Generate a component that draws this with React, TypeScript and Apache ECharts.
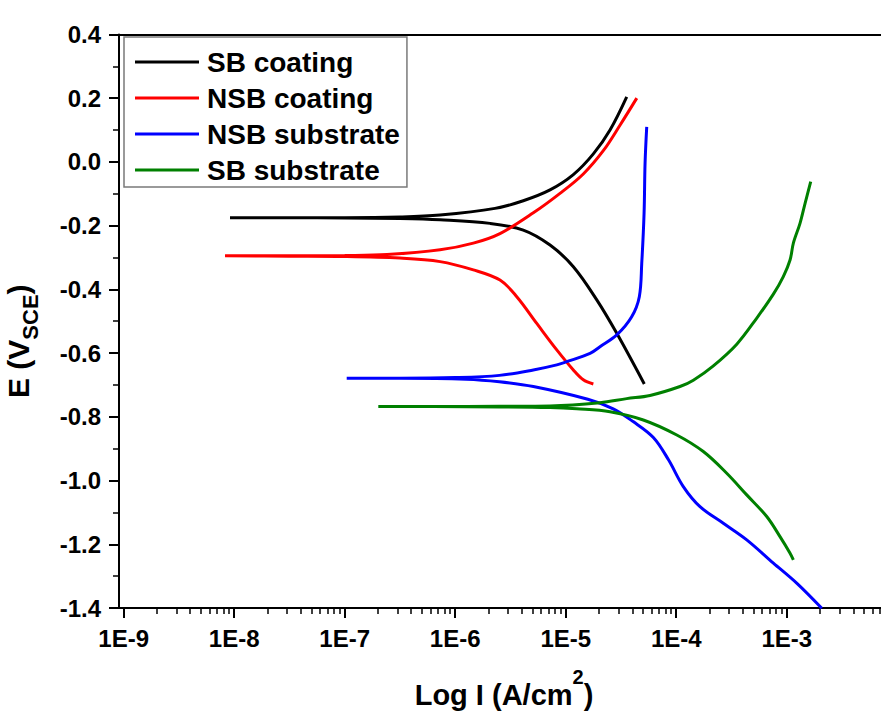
import React, { useEffect, useRef } from "react";
import * as echarts from "echarts";

const FONT = "'Liberation Sans', Arial, Helvetica, sans-serif";

const seriesNames = ["SB coating", "NSB coating", "NSB substrate", "SB substrate"];
const seriesColors = ["#000000", "#ff0000", "#0000ff", "#008000"];

// log10 of current density (A/cm^2) and potential E (V vs SCE), scan order cathodic -> anodic
const sbCoatingLogI = [-4.289, -4.538, -4.719, -4.931, -5.142, -5.384, -5.685, -6.137, -6.5, -7.0, -7.5, -8.038, -7.5, -7.0, -6.5, -6.137, -5.64, -5.384, -5.142, -4.931, -4.75, -4.599, -4.448];
const sbCoatingE = [-0.697, -0.538, -0.433, -0.329, -0.261, -0.214, -0.193, -0.182, -0.178, -0.176, -0.175, -0.175, -0.175, -0.175, -0.173, -0.167, -0.146, -0.122, -0.088, -0.04, 0.025, 0.1, 0.204];

const nsbCoatingLogI = [-4.75, -4.841, -4.931, -5.081, -5.262, -5.443, -5.595, -5.836, -6.137, -6.5, -7.0, -7.5, -8.083, -7.5, -7.0, -6.617, -6.137, -5.836, -5.595, -5.293, -5.052, -4.841, -4.66, -4.509, -4.357];
const nsbCoatingE = [-0.697, -0.684, -0.653, -0.59, -0.507, -0.423, -0.371, -0.339, -0.313, -0.302, -0.297, -0.296, -0.295, -0.295, -0.294, -0.291, -0.276, -0.255, -0.225, -0.16, -0.099, -0.038, 0.035, 0.115, 0.2];

const nsbSubstrateLogI = [-2.683, -2.91, -3.121, -3.362, -3.574, -3.785, -3.936, -4.07, -4.207, -4.39, -4.57, -4.8, -5.293, -5.6, -5.9, -6.5, -6.982, -6.5, -6.0, -5.6, -5.293, -5.081, -4.991, -4.78, -4.69, -4.538, -4.403, -4.334, -4.312, -4.291, -4.282, -4.267];
const nsbSubstrateE = [-1.401, -1.322, -1.259, -1.186, -1.134, -1.082, -1.019, -0.935, -0.865, -0.815, -0.775, -0.745, -0.705, -0.69, -0.682, -0.679, -0.679, -0.679, -0.677, -0.67, -0.653, -0.637, -0.627, -0.601, -0.58, -0.543, -0.486, -0.423, -0.318, -0.161, -0.004, 0.11];

const sbSubstrateLogI = [-2.94, -2.97, -3.061, -3.181, -3.362, -3.543, -3.755, -3.995, -4.298, -4.599, -4.9, -5.142, -5.6, -6.2, -6.696, -6.2, -5.6, -5.142, -4.69, -4.448, -4.237, -3.966, -3.845, -3.664, -3.452, -3.271, -3.121, -3.031, -2.97, -2.94, -2.88, -2.834, -2.783];
const sbSubstrateE = [-1.249, -1.228, -1.176, -1.113, -1.045, -0.977, -0.909, -0.857, -0.81, -0.784, -0.775, -0.771, -0.769, -0.768, -0.768, -0.768, -0.767, -0.766, -0.756, -0.743, -0.733, -0.705, -0.685, -0.64, -0.572, -0.49, -0.415, -0.36, -0.308, -0.255, -0.193, -0.13, -0.062];

const seriesLogI = [sbCoatingLogI, nsbCoatingLogI, nsbSubstrateLogI, sbSubstrateLogI];
const seriesE = [sbCoatingE, nsbCoatingE, nsbSubstrateE, sbSubstrateE];

const xTickExponents = [-9, -8, -7, -6, -5, -4, -3];
const minorMantissas = [2, 3, 4, 5, 6, 7, 8, 9];
const xMin = -9.0425;
const xMax = -2.147;
const yMin = -1.4;
const yMax = 0.4;
const yStep = 0.2;

export default function App() {
  const ref = useRef<HTMLDivElement>(null);

  useEffect(() => {
    if (!ref.current) return;
    const chart = echarts.init(ref.current, null, { renderer: "svg" });

    const minorValues: number[] = [];
    xTickExponents.forEach((e) => {
      minorMantissas.forEach((m) => {
        const v = e + Math.log10(m);
        if (v > xMin && v < xMax) minorValues.push(v);
      });
    });

    const labelStyle = {
      fontFamily: FONT,
      fontWeight: "bold" as const,
      fontSize: 24,
      color: "#000",
    };

    const option: any = {
      animation: false,
      backgroundColor: "#fff",
      grid: {
        left: 119,
        top: 34.4,
        width: 762,
        height: 573.6,
        containLabel: false,
        outerBoundsMode: "none",
      },
      legend: {
        orient: "vertical",
        left: 124,
        top: 37,
        data: seriesNames,
        icon: "rect",
        itemWidth: 64,
        itemHeight: 3,
        itemGap: 6,
        padding: [10, 7, 2, 11],
        borderColor: "#7a7a7a",
        borderWidth: 1.5,
        backgroundColor: "#fff",
        textStyle: {
          fontFamily: FONT,
          fontWeight: "bold",
          fontSize: 28,
          lineHeight: 30,
          color: "#000",
          padding: [0, 0, 0, 3],
        },
      },
      xAxis: [
        {
          type: "value",
          position: "bottom",
          min: xMin,
          max: xMax,
          axisLine: { show: true, onZero: false, lineStyle: { color: "#000", width: 2 } },
          axisTick: { show: true, customValues: xTickExponents, length: 10, lineStyle: { color: "#000", width: 2 } },
          axisLabel: {
            ...labelStyle,
            customValues: xTickExponents,
            margin: 18,
            formatter: (v: number) => "1E" + Math.round(v),
          },
          splitLine: { show: false },
          name: "Log I (A/cm{sup|2})",
          nameLocation: "middle",
          nameGap: 59,
          nameTextStyle: {
            fontFamily: FONT,
            fontWeight: "bold",
            fontSize: 29,
            lineHeight: 56,
            color: "#000",
            padding: [0, 0, 0, 8],
            rich: {
              sup: { fontFamily: FONT, fontWeight: "bold", fontSize: 20, lineHeight: 20, verticalAlign: "top", color: "#000" },
            },
          },
        },
        {
          type: "value",
          position: "bottom",
          min: xMin,
          max: xMax,
          axisLine: { show: false, onZero: false },
          axisTick: { show: true, customValues: minorValues, length: 6, lineStyle: { color: "#000", width: 1.5 } },
          axisLabel: { show: false },
          splitLine: { show: false },
        },
        {
          type: "value",
          position: "top",
          min: xMin,
          max: xMax,
          axisLine: { show: true, onZero: false, lineStyle: { color: "#000", width: 2 } },
          axisTick: { show: false },
          axisLabel: { show: false },
          splitLine: { show: false },
        },
      ],
      yAxis: {
        type: "value",
        min: yMin,
        max: yMax,
        interval: yStep,
        axisLine: { show: true, onZero: false, lineStyle: { color: "#000", width: 2 } },
        axisTick: { show: true, length: 10, lineStyle: { color: "#000", width: 2 } },
        minorTick: { show: true, splitNumber: 2, length: 6, lineStyle: { color: "#000", width: 1.5 } },
        axisLabel: {
          ...labelStyle,
          margin: 18,
          formatter: (v: number) => (Math.abs(v) < 1e-9 ? "0.0" : v.toFixed(1)),
        },
        splitLine: { show: false },
        minorSplitLine: { show: false },
        name: "E (V{sub|SCE})",
        nameLocation: "middle",
        nameGap: 78,
        nameTextStyle: {
          fontFamily: FONT,
          fontWeight: "bold",
          fontSize: 30,
          lineHeight: 46,
          color: "#000",
          padding: [0, 40, 0, 0],
          rich: {
            sub: { fontFamily: FONT, fontWeight: "bold", fontSize: 22, lineHeight: 22, verticalAlign: "bottom", color: "#000" },
          },
        },
      },
      series: seriesNames.map((name, i) => ({
        name,
        type: "line",
        xAxisIndex: 0,
        yAxisIndex: 0,
        symbol: "none",
        smooth: 0.35,
        color: seriesColors[i],
        lineStyle: { color: seriesColors[i], width: 3 },
        data: seriesLogI[i].map((x, j) => [x, seriesE[i][j]]),
        z: 2,
      })),
    };

    chart.setOption(option);
    return () => chart.dispose();
  }, []);

  return (
    <div
      ref={ref}
      style={{ position: "absolute", left: 0, top: 0, width: 881, height: 711 }}
    />
  );
}
